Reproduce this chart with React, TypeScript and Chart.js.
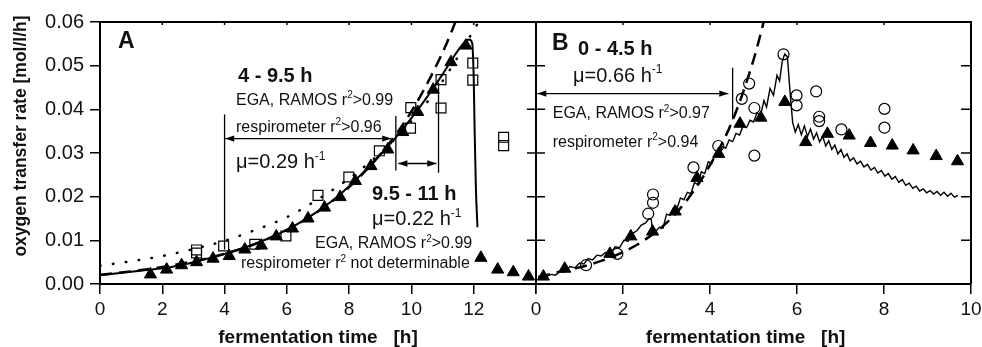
import React, { useEffect, useRef } from 'react';
import { Chart, registerables } from 'chart.js';

Chart.register(...registerables);

// ---------------- Panel A data (time in h, OTR in mol/l/h) ----------------
const aTriT = [1.62, 2.14, 2.62, 3.1, 3.63, 4.15, 4.65, 5.18, 5.66, 6.18, 6.68, 7.21, 7.71, 8.2, 8.7, 9.24, 9.72, 10.2, 10.7, 11.27, 11.75, 12.23, 12.77, 13.27, 13.76];
const aTriV = [0.0022, 0.0033, 0.0043, 0.005, 0.0058, 0.0064, 0.0079, 0.0088, 0.0109, 0.0127, 0.015, 0.0175, 0.0199, 0.0236, 0.027, 0.0308, 0.0348, 0.0394, 0.0445, 0.0508, 0.0546, 0.006, 0.0033, 0.0027, 0.0017];

const aSqT = [3.1, 3.1, 3.97, 4.97, 5.97, 7.0, 7.99, 8.97, 9.97, 9.98, 10.95, 10.95, 11.97, 11.97, 12.96, 12.96];
const aSqV = [0.0071, 0.0078, 0.0087, 0.0091, 0.011, 0.0203, 0.0245, 0.0305, 0.0357, 0.0404, 0.0403, 0.0468, 0.0467, 0.0506, 0.0317, 0.0336];

const aLineT = [0, 0.5, 1, 1.5, 2, 2.5, 3, 3.5, 4, 4.5, 5, 5.5, 6, 6.5, 7, 7.5, 8, 8.5, 9, 9.5, 10, 10.5, 11, 11.4, 11.7, 11.85, 11.95, 12.0, 12.03, 12.07, 12.12];
const aLineV = [0.002, 0.0024, 0.0028, 0.0032, 0.0036, 0.0042, 0.005, 0.0059, 0.0069, 0.008, 0.0093, 0.0107, 0.0124, 0.0144, 0.0167, 0.0193, 0.0224, 0.0259, 0.0296, 0.0336, 0.038, 0.0428, 0.048, 0.0525, 0.0553, 0.056, 0.0552, 0.047, 0.035, 0.022, 0.013];

// exponential fit 4 - 9.5 h (mu = 0.29 1/h), dashed
const aFit1T = [0, 1, 2, 3, 4, 5, 6, 7, 8, 9, 10, 11, 11.5];
const aFit1V = [0.0021, 0.0029, 0.0039, 0.0052, 0.0069, 0.0092, 0.0124, 0.0166, 0.0222, 0.0297, 0.0395, 0.053, 0.0615];

// exponential fit 9.5 - 11 h (mu = 0.22 1/h), dotted
const aFit2T = [0, 1, 2, 3, 4, 5, 6, 7, 8, 9, 10, 11, 12.2];
const aFit2V = [0.0042, 0.0052, 0.0064, 0.008, 0.0099, 0.0124, 0.0153, 0.0194, 0.0242, 0.03, 0.0373, 0.0465, 0.0605];

// interval markers (panel A)
const aMark4T = [4, 4];
const aMark4V = [0.0388, 0.0079];
const aMark95T = [9.5, 9.5];
const aMark95V = [0.0385, 0.026];
const aMark11T = [10.87, 10.87];
const aMark11V = [0.0461, 0.0255];
const aArrow1T = [4.02, 9.35];
const aArrow1V = [0.0333, 0.0333];
const aArrow2T = [9.58, 10.8];
const aArrow2V = [0.0276, 0.0276];

// ---------------- Panel B data ----------------
const bCircT = [1.15, 1.87, 2.58, 2.69, 2.69, 3.62, 4.19, 4.73, 4.9, 5.02, 5.02, 5.69, 5.99, 5.99, 6.44, 6.51, 6.51, 7.02, 8.01, 8.01];
const bCircV = [0.0043, 0.0069, 0.0161, 0.0186, 0.0205, 0.0267, 0.0316, 0.0424, 0.0459, 0.0403, 0.0294, 0.0526, 0.0432, 0.0409, 0.0441, 0.0383, 0.0373, 0.0354, 0.0401, 0.0358];

const bTriT = [0.17, 0.66, 1.7, 2.18, 2.68, 3.2, 3.7, 4.2, 4.69, 5.17, 5.72, 6.2, 6.7, 7.2, 7.69, 8.19, 8.67, 9.2, 9.69];
const bTriV = [0.0017, 0.0035, 0.0069, 0.0109, 0.012, 0.0166, 0.0243, 0.0298, 0.0367, 0.0381, 0.0417, 0.0325, 0.0344, 0.034, 0.0323, 0.0317, 0.0306, 0.0293, 0.0281];

const bLineT = [0.05, 0.2, 0.35, 0.45, 0.55, 0.65, 0.78, 0.9, 1.0, 1.1, 1.2, 1.3, 1.4, 1.5, 1.6, 1.72, 1.82, 1.92, 2.02, 2.12, 2.22, 2.32, 2.42, 2.52, 2.6, 2.65, 2.68, 2.76, 2.84, 2.92, 3.0, 3.08, 3.16, 3.24, 3.32, 3.4, 3.48, 3.56, 3.64, 3.72, 3.8, 3.88, 3.96, 4.04, 4.12, 4.2, 4.28, 4.36, 4.44, 4.52, 4.6, 4.68, 4.76, 4.84, 4.92, 5.0, 5.08, 5.16, 5.24, 5.3, 5.38, 5.46, 5.54, 5.6, 5.66, 5.72, 5.78, 5.84, 5.9, 5.96, 6.03, 6.1, 6.17, 6.24, 6.31, 6.38, 6.45, 6.52, 6.59, 6.66, 6.73, 6.8, 6.87, 6.94, 7.01, 7.08, 7.15, 7.22, 7.3, 7.38, 7.46, 7.54, 7.62, 7.7, 7.78, 7.86, 7.94, 8.02, 8.1, 8.18, 8.26, 8.34, 8.42, 8.5, 8.58, 8.66, 8.74, 8.82, 8.9, 8.98, 9.06, 9.14, 9.22, 9.3, 9.38, 9.46, 9.54, 9.62, 9.7];
const bLineV = [0.0012, 0.0016, 0.0022, 0.002, 0.003, 0.0027, 0.004, 0.0037, 0.0048, 0.0046, 0.0058, 0.0055, 0.0066, 0.0064, 0.0072, 0.0071, 0.0085, 0.0083, 0.01, 0.0098, 0.0116, 0.0122, 0.0135, 0.014, 0.015, 0.0148, 0.0118, 0.0122, 0.013, 0.0128, 0.016, 0.0157, 0.0175, 0.0172, 0.0197, 0.0193, 0.021, 0.0207, 0.0232, 0.0228, 0.0257, 0.0253, 0.028, 0.0276, 0.0298, 0.0296, 0.0315, 0.0311, 0.033, 0.0326, 0.0345, 0.0341, 0.0362, 0.0358, 0.0375, 0.0371, 0.0392, 0.0385, 0.042, 0.0405, 0.0448, 0.0432, 0.0478, 0.0465, 0.051, 0.0527, 0.052, 0.044, 0.037, 0.0348, 0.0365, 0.0342, 0.0362, 0.0338, 0.0355, 0.0332, 0.0346, 0.0325, 0.0338, 0.0316, 0.0328, 0.0308, 0.0318, 0.0298, 0.0308, 0.029, 0.0298, 0.0282, 0.0289, 0.0275, 0.0281, 0.0268, 0.0274, 0.0261, 0.0267, 0.0254, 0.026, 0.0247, 0.0253, 0.024, 0.0246, 0.0233, 0.0239, 0.0226, 0.0231, 0.0219, 0.0224, 0.0213, 0.0218, 0.0209, 0.0214, 0.0206, 0.0212, 0.0203, 0.021, 0.0201, 0.0208, 0.0199, 0.0203];

// exponential fit 0 - 4.5 h (mu = 0.66 1/h), dashed
const bFitT = [0.05, 0.5, 1, 1.5, 2, 2.5, 3, 3.5, 4, 4.5, 5, 5.3];
const bFitV = [0.0016, 0.0027, 0.0038, 0.0053, 0.0073, 0.0101, 0.014, 0.0196, 0.0272, 0.037, 0.0513, 0.0625];

const bMarkT = [4.52, 4.52];
const bMarkV = [0.0495, 0.0377];
const bArrowT = [0.03, 4.42];
const bArrowV = [0.0436, 0.0436];

// axis ticks / labels
const yTicks = [0, 0.01, 0.02, 0.03, 0.04, 0.05, 0.06];
const aXMax = 14;
const aXLabelMax = 12;
const bXMax = 10;
const xTitle = 'fermentation time   [h]';
const yTitle = 'oxygen transfer rate [mol/l/h]';

const FONT = '"Liberation Sans", Arial, Helvetica, sans-serif';

type Seg = [string, number?];
type Note = { x: number; y: number; size: number; bold?: boolean; segs: Seg[] };

const notesA: Note[] = [
  { x: 0.578, y: 0.054, size: 23, bold: true, segs: [['A']] },
  { x: 4.431, y: 0.04626, size: 20, bold: true, segs: [['4 - 9.5 h']] },
  { x: 4.367, y: 0.04099, size: 16, segs: [['EGA, RAMOS r'], ['2', 1], ['>0.99']] },
  { x: 4.367, y: 0.03488, size: 16, segs: [['respirometer r'], ['2', 1], ['>0.96']] },
  { x: 4.367, y: 0.02656, size: 20, segs: [['\u03bc=0.29 h'], ['-1', 1]] },
  { x: 8.734, y: 0.01924, size: 20, bold: true, segs: [['9.5 - 11 h']] },
  { x: 8.734, y: 0.01351, size: 20, segs: [['\u03bc=0.22 h'], ['-1', 1]] },
  { x: 6.904, y: 0.00818, size: 16, segs: [['EGA, RAMOS r'], ['2', 1], ['>0.99']] },
  { x: 4.528, y: 0.0036, size: 16, segs: [['respirometer r'], ['2', 1], [' not determinable']] },
];

const notesB: Note[] = [
  { x: 0.368, y: 0.05359, size: 23, bold: true, segs: [['B']] },
  { x: 0.966, y: 0.05244, size: 20, bold: true, segs: [['0 - 4.5 h']] },
  { x: 0.851, y: 0.04633, size: 20, segs: [['\u03bc=0.66 h'], ['-1', 1]] },
  { x: 0.384, y: 0.03795, size: 16, segs: [['EGA, RAMOS r'], ['2', 1], ['>0.97']] },
  { x: 0.384, y: 0.03144, size: 16, segs: [['respirometer r'], ['2', 1], ['>0.94']] },
];

function pts(t: number[], v: number[]) {
  return t.map((x, i) => ({ x, y: v[i] }));
}

function drawNotes(chart: any, notes: Note[]) {
  const { ctx, scales } = chart;
  ctx.save();
  ctx.fillStyle = '#111';
  ctx.textBaseline = 'alphabetic';
  ctx.textAlign = 'left';
  for (const n of notes) {
    let cx = scales.x.getPixelForValue(n.x);
    const cy = scales.y.getPixelForValue(n.y);
    for (const [txt, sup] of n.segs) {
      const fs = sup ? Math.round(n.size * 0.62) : n.size;
      ctx.font = `${n.bold ? 'bold ' : ''}${fs}px ${FONT}`;
      ctx.fillText(txt, cx, cy - (sup ? n.size * 0.42 : 0));
      cx += ctx.measureText(txt).width;
    }
  }
  ctx.restore();
}

function drawArrowHeads(chart: any) {
  const { ctx } = chart;
  ctx.save();
  ctx.fillStyle = '#000';
  chart.data.datasets.forEach((ds: any, i: number) => {
    if (!ds.arrowHeads) return;
    const els = chart.getDatasetMeta(i).data;
    if (els.length < 2) return;
    const ends = [
      [els[0], els[1]],
      [els[els.length - 1], els[els.length - 2]],
    ];
    for (const [tip, from] of ends) {
      const ang = Math.atan2(tip.y - from.y, tip.x - from.x);
      const L = 9;
      const W = 3.2;
      ctx.beginPath();
      ctx.moveTo(tip.x, tip.y);
      ctx.lineTo(tip.x - L * Math.cos(ang) - W * Math.sin(ang), tip.y - L * Math.sin(ang) + W * Math.cos(ang));
      ctx.lineTo(tip.x - L * Math.cos(ang) + W * Math.sin(ang), tip.y - L * Math.sin(ang) - W * Math.cos(ang));
      ctx.closePath();
      ctx.fill();
    }
  });
  ctx.restore();
}

const frameA = {
  id: 'frameA',
  afterDatasetsDraw(chart: any) {
    drawArrowHeads(chart);
  },
  afterDraw(chart: any) {
    const { ctx, chartArea: a, scales } = chart;
    ctx.save();
    ctx.strokeStyle = '#000';
    ctx.lineWidth = 2;
    ctx.beginPath();
    ctx.moveTo(a.left - 1, a.top);
    ctx.lineTo(a.right, a.top);
    ctx.stroke();
    ctx.lineWidth = 1.5;
    for (const tk of scales.x.ticks) {
      const px = scales.x.getPixelForValue(tk.value);
      ctx.beginPath();
      ctx.moveTo(px, a.top);
      ctx.lineTo(px, a.top + 3);
      ctx.stroke();
    }
    // y axis title
    ctx.fillStyle = '#111';
    ctx.font = `bold 17.5px ${FONT}`;
    ctx.textAlign = 'center';
    ctx.textBaseline = 'middle';
    ctx.translate(21, 136);
    ctx.rotate(-Math.PI / 2);
    ctx.fillText(yTitle, 0, 0);
    ctx.restore();
    drawNotes(chart, notesA);
  },
};

const frameB = {
  id: 'frameB',
  afterDatasetsDraw(chart: any) {
    drawArrowHeads(chart);
  },
  afterDraw(chart: any) {
    const { ctx, chartArea: a, scales } = chart;
    ctx.save();
    ctx.strokeStyle = '#000';
    ctx.lineWidth = 2;
    ctx.beginPath();
    ctx.moveTo(a.left, a.top);
    ctx.lineTo(a.right, a.top);
    ctx.lineTo(a.right, a.bottom);
    ctx.moveTo(a.left, a.top);
    ctx.lineTo(a.left, a.bottom);
    ctx.stroke();
    ctx.lineWidth = 1.5;
    for (const tk of scales.x.ticks) {
      const px = scales.x.getPixelForValue(tk.value);
      ctx.beginPath();
      ctx.moveTo(px, a.top);
      ctx.lineTo(px, a.top + 3);
      ctx.stroke();
    }
    for (const v of yTicks) {
      const py = scales.y.getPixelForValue(v);
      ctx.beginPath();
      ctx.moveTo(a.left - 9, py);
      ctx.lineTo(a.left + 9, py);
      ctx.moveTo(a.right - 10, py);
      ctx.lineTo(a.right, py);
      ctx.stroke();
    }
    ctx.restore();
    drawNotes(chart, notesB);
  },
};

const gridOpts = {
  display: true,
  drawOnChartArea: false,
  drawTicks: true,
  tickLength: 10,
  color: '#000',
  lineWidth: 1.5,
};
const borderOpts = { display: true, color: '#000', width: 2 };

function xScale(max: number, labelMax: number, titleText: string) {
  return {
    type: 'linear' as const,
    position: 'bottom' as const,
    min: 0,
    max,
    grid: gridOpts,
    border: borderOpts,
    ticks: {
      stepSize: 2,
      autoSkip: false,
      maxRotation: 0,
      padding: 4,
      color: '#111',
      font: { size: 19, family: FONT },
      callback: (v: any) => (Number(v) > labelMax ? '' : String(v)),
    },
    title: {
      display: true,
      text: titleText,
      color: '#111',
      font: { size: 19, weight: 'bold' as const, family: FONT, lineHeight: 1 },
      padding: { top: 0, bottom: 0 },
    },
    afterFit: (s: any) => {
      s.height = 63;
      s.paddingLeft = 0;
      s.paddingRight = 0;
    },
  };
}

function yScale(show: boolean) {
  return {
    type: 'linear' as const,
    position: 'left' as const,
    display: show,
    min: 0,
    max: 0.06,
    grid: gridOpts,
    border: borderOpts,
    ticks: {
      stepSize: 0.01,
      padding: 6,
      color: '#111',
      font: { size: 20, family: FONT },
      callback: (v: any) => Number(v).toFixed(2),
    },
    afterFit: (s: any) => {
      s.width = show ? 100 : 0;
      s.paddingTop = 0;
      s.paddingBottom = 0;
    },
  };
}

const lineDs = (data: any[], extra: any) => ({
  data,
  showLine: true,
  pointRadius: 0,
  pointHoverRadius: 0,
  borderColor: '#000',
  backgroundColor: '#000',
  fill: false,
  ...extra,
});

const commonOpts = (padding: any) => ({
  responsive: false,
  animation: false as const,
  devicePixelRatio: 1,
  events: [] as any[],
  layout: { padding },
  plugins: { legend: { display: false }, tooltip: { enabled: false } },
});

export default function App() {
  const refA = useRef<HTMLCanvasElement>(null);
  const refB = useRef<HTMLCanvasElement>(null);

  useEffect(() => {
    Chart.defaults.font.family = FONT;
    const chartA = new Chart(refA.current as HTMLCanvasElement, {
      type: 'scatter',
      data: {
        datasets: [
          {
            data: pts(aTriT, aTriV),
            pointStyle: 'triangle',
            pointRadius: 7,
            backgroundColor: '#000',
            borderColor: '#000',
            borderWidth: 1,
            clip: false,
          },
          {
            data: pts(aSqT, aSqV),
            pointStyle: 'rect',
            pointRadius: 7,
            backgroundColor: 'rgba(0,0,0,0)',
            borderColor: '#000',
            borderWidth: 1.2,
            clip: false,
          },
          lineDs(pts(aLineT, aLineV), { borderWidth: 2, cubicInterpolationMode: 'monotone' }),
          lineDs(pts(aFit1T, aFit1V), { borderWidth: 2.5, borderDash: [12, 7], cubicInterpolationMode: 'monotone' }),
          lineDs(pts(aFit2T, aFit2V), { borderWidth: 2.5, borderDash: [0.5, 12.5], borderCapStyle: 'round', cubicInterpolationMode: 'monotone' }),
          lineDs(pts(aMark4T, aMark4V), { borderWidth: 1.3 }),
          lineDs(pts(aMark95T, aMark95V), { borderWidth: 1.3 }),
          lineDs(pts(aMark11T, aMark11V), { borderWidth: 1.3 }),
          lineDs(pts(aArrow1T, aArrow1V), { borderWidth: 1.3, arrowHeads: true }),
          lineDs(pts(aArrow2T, aArrow2V), { borderWidth: 1.3, arrowHeads: true }),
        ],
      },
      options: {
        ...commonOpts({ left: 0, right: 446, top: 22, bottom: 0 }),
        scales: { x: xScale(aXMax, aXLabelMax, xTitle), y: yScale(true) },
      } as any,
      plugins: [frameA],
    });

    const chartB = new Chart(refB.current as HTMLCanvasElement, {
      type: 'scatter',
      data: {
        datasets: [
          {
            data: pts(bTriT, bTriV),
            pointStyle: 'triangle',
            pointRadius: 7,
            backgroundColor: '#000',
            borderColor: '#000',
            borderWidth: 1,
            clip: false,
          },
          {
            data: pts(bCircT, bCircV),
            pointStyle: 'circle',
            pointRadius: 5.5,
            backgroundColor: 'rgba(0,0,0,0)',
            borderColor: '#000',
            borderWidth: 1.2,
            clip: false,
          },
          lineDs(pts(bLineT, bLineV), { borderWidth: 1.4, tension: 0 }),
          lineDs(pts(bFitT, bFitV), { borderWidth: 2.5, borderDash: [12, 7], cubicInterpolationMode: 'monotone' }),
          lineDs(pts(bMarkT, bMarkV), { borderWidth: 1.3 }),
          lineDs(pts(bArrowT, bArrowV), { borderWidth: 1.3, arrowHeads: true }),
        ],
      },
      options: {
        ...commonOpts({ left: 536, right: 11, top: 22, bottom: 0 }),
        scales: { x: xScale(bXMax, bXMax, xTitle + '   '), y: yScale(false) },
      } as any,
      plugins: [frameB],
    });

    return () => {
      chartA.destroy();
      chartB.destroy();
    };
  }, []);

  return (
    <div style={{ position: 'absolute', left: 0, top: 0, width: 982, height: 347, background: '#fff' }}>
      <canvas ref={refA} width={982} height={347} style={{ position: 'absolute', left: 0, top: 0 }} />
      <canvas ref={refB} width={982} height={347} style={{ position: 'absolute', left: 0, top: 0 }} />
    </div>
  );
}
